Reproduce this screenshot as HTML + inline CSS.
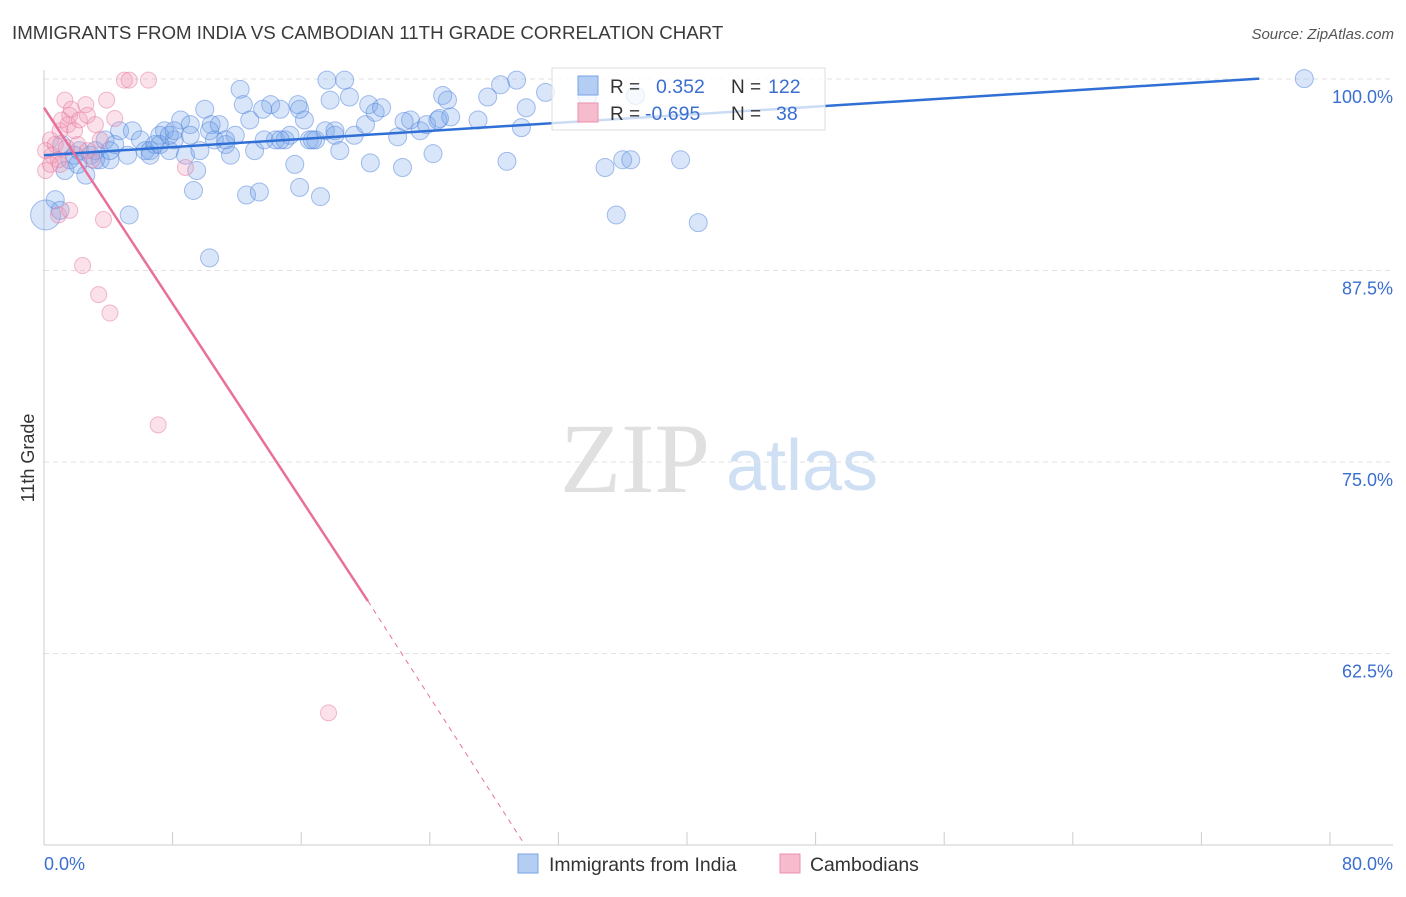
<!DOCTYPE html>
<html><head><meta charset="utf-8"><style>
body{margin:0;background:#fff;font-family:"Liberation Sans",sans-serif}
</style></head><body>
<svg id="c" width="1406" height="892" xmlns="http://www.w3.org/2000/svg">
<text x="12" y="39" font-size="18.7" fill="#3a3a3a">IMMIGRANTS FROM INDIA VS CAMBODIAN 11TH GRADE CORRELATION CHART</text>
<text x="1394" y="39" font-size="15" fill="#555" font-style="italic" text-anchor="end">Source: ZipAtlas.com</text>
<text x="34" y="458" font-size="18" fill="#333" transform="rotate(-90 34 458)" text-anchor="middle">11th Grade</text>
<g><text x="635" y="492" font-size="100" font-family="Liberation Serif,serif" fill="#e0e0e0" text-anchor="middle">ZIP</text><text x="802" y="490" font-size="72" fill="#cfdff4" text-anchor="middle">atlas</text></g>
<g id="grid"></g><g id="axes"></g><g id="pts"></g><g id="lines"></g>
<g>
<rect x="552" y="68" width="273" height="62" fill="rgba(255,255,255,0.75)" stroke="#ddd"/>
<rect x="578" y="76" width="20" height="19" fill="#b4cdf3" stroke="#7aa3e6"/>
<rect x="578" y="103" width="20" height="19" fill="#f6bccd" stroke="#ee8fae"/>
<text x="610" y="93" font-size="19" fill="#333">R =</text><text x="656" y="93" font-size="19.5" fill="#3a6fd0">0.352</text>
<text x="731" y="93" font-size="19" fill="#333">N =</text><text x="768" y="93" font-size="19.5" fill="#3a6fd0">122</text>
<text x="610" y="120" font-size="19" fill="#333">R =</text><text x="645" y="120" font-size="19.5" fill="#3a6fd0">-0.695</text>
<text x="731" y="120" font-size="19" fill="#333">N =</text><text x="776" y="120" font-size="19.5" fill="#3a6fd0">38</text>
</g>
<g>
<rect x="518" y="854" width="20" height="19" fill="#b4cdf3" stroke="#7aa3e6"/>
<text x="549" y="871" font-size="19.4" fill="#333">Immigrants from India</text>
<rect x="780" y="854" width="20" height="19" fill="#f6bccd" stroke="#ee8fae"/>
<text x="810" y="871" font-size="19.4" fill="#333">Cambodians</text>
</g>
</svg>
<script>
const yTicks=[100,87.5,75,62.5];
const yTickLabels=["100.0%","87.5%","75.0%","62.5%"];
const xTickLabels=["0.0%","80.0%"];
const indiaX=[0.1,0.7,1.0,1.3,1.6,1.9,2.2,2.6,2.9,3.2,3.5,3.8,4.1,4.4,4.7,5.2,5.5,6.0,6.3,6.6,6.9,7.2,7.5,7.8,8.1,8.5,8.8,9.1,9.3,9.5,9.7,10.0,10.3,10.4,10.6,10.9,11.3,11.6,11.9,12.2,12.4,12.6,12.8,13.1,13.4,13.7,14.1,14.4,14.7,15.0,15.3,15.6,15.8,15.9,16.2,16.5,16.9,17.2,17.5,17.6,17.8,18.1,18.4,18.7,19.0,19.3,20.0,20.2,20.3,20.6,21.0,22.0,22.3,22.8,23.4,23.8,24.2,24.5,24.8,25.1,25.3,27.0,27.6,28.4,28.8,29.4,29.7,30.0,31.2,34.9,35.6,36.0,36.5,36.8,39.6,40.7,78.4,5.3,1.1,2.1,3.2,4.1,6.6,7.2,7.8,8.1,9.1,10.3,11.3,13.6,14.7,15.9,16.7,18.1,22.4,24.6,33.8];
const indiaY=[92.3,93.3,92.6,95.2,95.9,96.2,96.5,94.9,96.2,96.5,95.9,97.2,95.9,96.9,97.8,96.2,97.8,97.2,96.5,96.5,96.9,97.5,97.8,96.5,97.2,98.5,96.2,98.2,93.9,95.2,96.5,99.2,89.5,98.2,97.2,98.2,96.9,96.2,97.5,100.5,99.5,93.6,98.5,96.5,93.8,97.2,99.5,97.2,99.2,97.2,97.5,95.6,99.5,94.1,98.5,97.2,97.2,93.5,97.8,101.1,99.8,97.5,96.5,101.1,100.0,97.5,98.2,99.5,95.7,99.0,99.3,97.4,95.4,98.5,97.8,98.2,96.3,98.5,100.1,99.8,98.7,98.5,100.0,100.8,95.8,101.1,98.0,99.3,100.3,95.4,92.3,95.9,95.9,100.1,95.9,91.8,101.2,92.3,96.9,95.6,95.9,96.5,96.2,96.9,97.5,97.8,97.5,97.8,97.2,99.2,97.2,99.2,97.2,97.8,98.4,98.6,100.0];
const cambX=[0.1,0.4,0.5,0.7,0.9,1.0,1.1,1.3,1.5,1.6,1.7,1.9,2.1,2.2,2.4,2.6,2.7,3.0,3.2,3.4,3.5,3.7,3.9,4.1,4.4,5.0,5.3,6.5,7.1,8.8,17.7,0.9,1.6,0.4,1.0,0.1,1.4,2.7];
const cambY=[95.2,97.2,96.2,96.9,95.9,97.8,98.5,99.8,98.2,98.8,99.2,97.8,96.9,98.5,89.0,99.5,98.8,95.9,98.2,87.1,97.2,92.0,99.8,85.9,98.6,101.1,101.1,101.1,78.6,95.4,59.8,92.3,92.6,95.6,95.6,96.5,96.7,96.5];
const indiaTrend=[[0,96.2],[75.6,101.2]];
const cambTrend=[[0,99.3],[20.15,67.1]];
const cambTrendExt=[[20.15,67.1],[29.9,51.2]];
const NS="http://www.w3.org/2000/svg";
const X=v=>44+v*16.075, Y=v=>97+(100-v)*15.32;
function mk(p,t,a){const e=document.createElementNS(NS,t);for(const k in a)e.setAttribute(k,a[k]);p.appendChild(e);return e;}
const g=document.getElementById('grid'),ax=document.getElementById('axes'),pts=document.getElementById('pts'),ln=document.getElementById('lines');
yTicks.forEach((t,i)=>{
 const l=mk(g,'line',{x1:44,x2:1393,y1:Y(t)-18,y2:Y(t)-18,stroke:'#e2e2e2','stroke-dasharray':'5,4'});
 
 
 const tx=mk(g,'text',{x:1393,y:Y(t)+6,'font-size':18,fill:'#3a6fd0','text-anchor':'end'});tx.textContent=yTickLabels[i];
 
 
});
mk(ax,'line',{x1:44,x2:44,y1:70,y2:845,stroke:'#ccc'});
mk(ax,'line',{x1:44,x2:1393,y1:845,y2:845,stroke:'#ccc'});
for(let i=0;i<=10;i++){const t=mk(ax,'line',{x1:X(i*8),x2:X(i*8),y1:832,y2:845,stroke:'#ccc'});
 
 }
[[0,'start',44],[80,'end',1393]].forEach((d,i)=>{const t=mk(ax,'text',{x:d[2],y:870,'font-size':18,fill:'#3a6fd0','text-anchor':d[1]});t.textContent=xTickLabels[i];
 
 });
indiaX.forEach((v,i)=>{const r=(i==0)?15:9;const c=mk(pts,'circle',{cx:X(v),cy:Y(indiaY[i]),r:r,fill:'rgba(120,165,235,0.28)',stroke:'rgba(80,130,220,0.5)','stroke-width':1});
 
 });
cambX.forEach((v,i)=>{const c=mk(pts,'circle',{cx:X(v),cy:Y(cambY[i]),r:8,fill:'rgba(240,150,180,0.28)',stroke:'rgba(230,120,160,0.5)','stroke-width':1});
 
 });
const l1=mk(ln,'line',{x1:X(indiaTrend[0][0]),y1:Y(indiaTrend[0][1]),x2:X(indiaTrend[1][0]),y2:Y(indiaTrend[1][1]),stroke:'#2f6fd6','stroke-width':2.5});


const l2=mk(ln,'line',{x1:X(cambTrend[0][0]),y1:Y(cambTrend[0][1]),x2:X(cambTrend[1][0]),y2:Y(cambTrend[1][1]),stroke:'#e8709a','stroke-width':2.5});


const l3=mk(ln,'line',{x1:X(cambTrendExt[0][0]),y1:Y(cambTrendExt[0][1]),x2:X(cambTrendExt[1][0]),y2:Y(cambTrendExt[1][1]),stroke:'#e8709a','stroke-width':1,'stroke-dasharray':'5,5'});


</script>
</body></html>
